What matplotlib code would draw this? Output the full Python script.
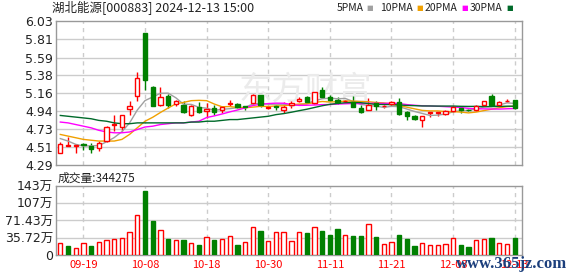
import numpy as np
import pandas as pd
import matplotlib
matplotlib.use('Agg')
import matplotlib.pyplot as plt

# daily candles, 2024-09-12 .. 2024-12-13
opens = [4.44, 4.52, 4.52, 4.54, 4.52, 4.50, 4.58, 4.78, 4.75, 4.97,
         5.13, 5.89, 5.23, 5.02, 5.13, 5.03, 5.02, 4.89, 4.99, 4.94,
         4.98, 4.95, 5.03, 5.03, 5.01, 5.04, 5.14, 4.98, 5.00, 4.96,
         5.02, 5.06, 5.11, 5.04, 5.20, 5.11, 5.08, 5.06, 5.05, 4.98,
         4.95, 5.04, 5.00, 5.03, 5.05, 4.93, 4.88, 4.84, 4.92, 4.92,
         4.91, 4.94, 4.98, 4.96, 4.95, 5.02, 5.13, 5.02, 5.07, 5.08]
highs = [4.57, 4.63, 4.54, 4.56, 4.56, 4.58, 4.76, 4.89, 4.89, 5.07,
         5.42, 5.89, 5.25, 5.24, 5.15, 5.08, 5.07, 5.02, 5.05, 5.04,
         5.02, 5.00, 5.08, 5.04, 5.01, 5.15, 5.14, 5.00, 5.02, 5.05,
         5.06, 5.11, 5.12, 5.17, 5.24, 5.14, 5.11, 5.08, 5.13, 5.02,
         5.10, 5.06, 5.02, 5.06, 5.10, 4.94, 4.89, 4.88, 4.93, 4.93,
         4.95, 5.00, 4.98, 4.97, 5.02, 5.06, 5.15, 5.07, 5.09, 5.08]
lows = [4.44, 4.52, 4.44, 4.47, 4.44, 4.46, 4.57, 4.70, 4.70, 4.89,
        5.07, 5.20, 5.00, 5.01, 4.98, 5.00, 4.92, 4.88, 4.92, 4.86,
        4.89, 4.92, 5.01, 4.98, 4.95, 5.03, 4.99, 4.97, 4.96, 4.92,
        4.98, 5.05, 5.04, 5.03, 5.10, 5.06, 5.03, 5.05, 4.99, 4.92,
        4.95, 4.96, 4.98, 5.02, 4.90, 4.83, 4.84, 4.75, 4.87, 4.88,
        4.90, 4.93, 4.92, 4.94, 4.94, 5.02, 5.01, 5.02, 5.05, 4.97]
closes = [4.54, 4.53, 4.53, 4.53, 4.48, 4.56, 4.75, 4.79, 4.89, 5.01,
          5.34, 5.32, 5.01, 5.11, 5.02, 5.06, 4.93, 5.00, 4.93, 4.97,
          4.93, 4.99, 5.04, 4.99, 4.99, 5.14, 5.02, 4.99, 4.99, 4.99,
          5.04, 5.09, 5.05, 5.17, 5.11, 5.08, 5.05, 5.07, 4.99, 4.93,
          5.02, 5.00, 5.00, 5.05, 4.91, 4.88, 4.85, 4.88, 4.93, 4.93,
          4.94, 4.99, 4.95, 4.95, 5.01, 5.06, 5.02, 5.05, 5.07, 4.98]

# volume in 万 (10k lots)
volumes = [24.4, 18.1, 13.9, 24.4, 18.1, 26.4, 30.6, 32.0, 34.1, 47.2,
           82.6, 133.3, 70.1, 50.7, 32.7, 30.6, 30.6, 24.4, 20.2, 36.2,
           30.6, 32.7, 38.9, 20.2, 26.4, 57.0, 49.3, 28.5, 47.2, 47.2,
           28.5, 46.6, 45.2, 57.0, 49.3, 41.0, 52.8, 40.3, 38.9, 38.9,
           63.2, 36.8, 22.3, 26.4, 41.0, 32.0, 18.1, 23.7, 20.2, 20.2,
           22.3, 34.1, 20.2, 16.0, 30.6, 32.0, 34.8, 24.4, 22.3, 34.43]
vol_up = [1, 0, 1, 1, 0, 1, 1, 1, 1, 1, 1, 0, 0, 1, 0, 1, 0, 1, 0, 1,
          0, 1, 1, 0, 1, 1, 0, 1, 1, 1, 1, 1, 0, 1, 0, 0, 0, 1, 0, 0,
          1, 0, 1, 1, 0, 0, 0, 1, 1, 1, 1, 1, 0, 0, 1, 1, 0, 1, 1, 0]

# moving averages before a full window exists
ma5_head = [4.61, 4.58, 4.54, 4.52]
ma10_head = [4.66, 4.64, 4.62, 4.60, 4.59, 4.58, 4.58, 4.58, 4.60]
ma20_head = [4.81, 4.80, 4.78, 4.76, 4.74, 4.71, 4.69, 4.68, 4.68, 4.69,
             4.72, 4.75, 4.76, 4.78, 4.79, 4.80, 4.80, 4.81, 4.82]
ma30_head = [4.89, 4.88, 4.87, 4.86, 4.85, 4.83, 4.82, 4.80, 4.79, 4.79,
             4.80, 4.80, 4.80, 4.80, 4.80, 4.80, 4.80, 4.81, 4.81, 4.82,
             4.82, 4.83, 4.84, 4.84, 4.85, 4.86, 4.87, 4.88, 4.90]

date_idx = [3, 11, 19, 27, 35, 43, 51, 59]
date_labels = ['09-19', '10-08', '10-18', '10-30', '11-11', '11-21', '12-03', '12-13']
price_ticks = [6.03, 5.81, 5.59, 5.38, 5.16, 4.94, 4.73, 4.51, 4.29]
vol_ticks = [143, 107, 71.43, 35.72, 0]
vol_labels = ['143万', '107万', '71.43万', '35.72万', '0']

RED = '#ff0000'
GREEN = '#008000'
CJK = ['Noto Sans CJK SC', 'DejaVu Sans']
NUM = ['DejaVu Sans', 'Noto Sans CJK SC']


def with_head(series, n, head):
    ma = series.rolling(n).mean()
    ma.iloc[:len(head)] = head
    return ma


s = pd.Series(closes)
mas = [
    (with_head(s, 5, ma5_head), '#a0a0a0'),
    (with_head(s, 10, ma10_head), '#f0a000'),
    (with_head(s, 20, ma20_head), '#ff00ff'),
    (with_head(s, 30, ma30_head), '#006a2a'),
]

W, H = 578, 276
fig = plt.figure(figsize=(W / 100, H / 100), dpi=100)


def box(left, top, right, bottom):
    return [left / W, 1 - bottom / H, (right - left) / W, (bottom - top) / H]


ax = fig.add_axes(box(56, 21.3, 522, 165))
axv = fig.add_axes(box(56, 186, 522, 254.7))

x = np.arange(len(closes))
o, h, l, c = map(np.array, (opens, highs, lows, closes))
up = c >= o
cols = np.where(up, RED, GREEN)
faces = np.where(up, 'white', GREEN)
lo = np.minimum(o, c)
hi = np.maximum(o, c)

for a in (ax, axv):
    a.set_xlim(-0.56, 59.95)
    for sp in a.spines.values():
        sp.set_color('#999999')
        sp.set_linewidth(1)
    a.tick_params(length=0, pad=2)
    for i in date_idx:
        a.axvline(i, color='#cccccc', lw=1, ls=(0, (3, 3)), zorder=0.5)

# price panel
ax.set_ylim(4.29, 6.03)
ax.set_yticks(price_ticks)
ax.set_yticklabels([f'{v:.2f}' for v in price_ticks], fontsize=9, color='#222222', family=NUM)
for v in price_ticks[1:-1]:
    ax.axhline(v, color='#cccccc', lw=1, zorder=0.5)
ax.set_xticks([])
# faint site watermark behind the candles
ax.text(305 / W, 1 - 90 / H, '东方财富', transform=fig.transFigure, fontsize=24,
        color='#ebebeb', family=CJK, ha='center', va='center', zorder=0.6)

ax.vlines(x, hi, h, colors=cols, lw=1, zorder=2)
ax.vlines(x, l, lo, colors=cols, lw=1, zorder=2)
for ma, col in mas:
    ax.plot(x, ma, color=col, lw=1, zorder=3)
ax.bar(x, np.maximum(hi - lo, 0.001), bottom=lo, width=0.56,
       facecolor=faces, edgecolor=cols, linewidth=1, zorder=4)

# volume panel
vcols = [RED if u else GREEN for u in vol_up]
vfaces = ['white' if u else GREEN for u in vol_up]
axv.bar(x, volumes, width=0.56, facecolor=vfaces, edgecolor=vcols, linewidth=1, zorder=3)
axv.set_ylim(0, 143)
axv.set_yticks(vol_ticks)
axv.set_yticklabels(vol_labels, fontsize=9, color='#222222', family=NUM)
for v in vol_ticks[1:-1]:
    axv.axhline(v, color='#cccccc', lw=1, zorder=0.5)
axv.set_xticks(date_idx)
axv.set_xticklabels(date_labels, fontsize=8, color=RED, family=CJK)
axv.tick_params(axis='x', pad=4)

# header texts
fig.text(52 / W, 1 - 8 / H, '湖北能源[000883] 2024-12-13 15:00', fontsize=9,
         family=CJK, color='#222222', ha='left', va='center')
legend_items = [('5PMA', '#a0a0a0', 337), ('10PMA', '#f0a000', 380),
                ('20PMA', '#ff00ff', 425), ('30PMA', '#006a2a', 470)]
for name, col, px in legend_items:
    fig.text(px / W, 1 - 8 / H, name, fontsize=7.5, family=CJK,
             color='#222222', ha='left', va='center')
    fig.text((px + len(name) * 6.6 + 3) / W, 1 - 8 / H, '■', fontsize=5,
             color=col, ha='left', va='center')
fig.text(58 / W, 1 - 178 / H, '成交量:344275', fontsize=8.5, family=CJK,
         color='#222222', ha='left', va='center')
fig.text(456 / W, 1 - 264 / H, 'www.365jz.com', fontsize=12, family='Liberation Serif',
         weight='bold', color='#1c3f7c', ha='left', va='center')

fig.savefig('out.png', dpi=100)
